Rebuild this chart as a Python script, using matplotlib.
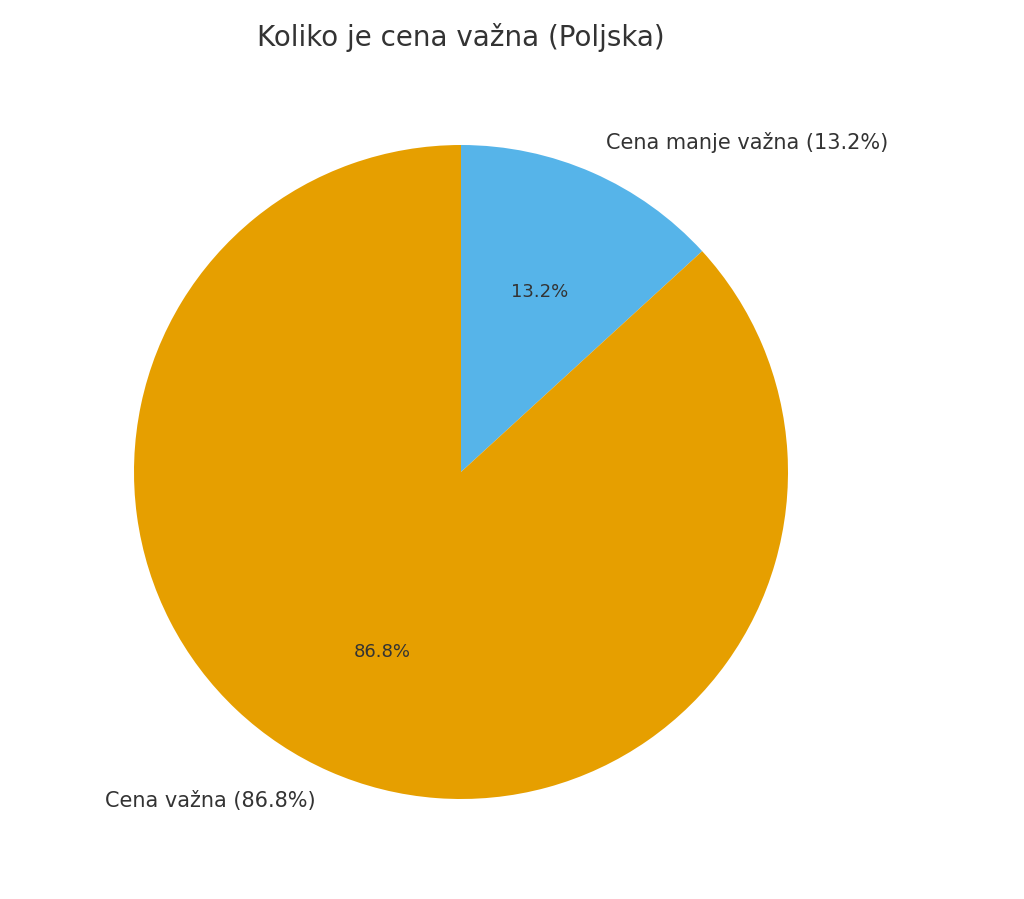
import matplotlib
matplotlib.use("Agg")
import matplotlib.pyplot as plt

labels = ["Cena manje važna (13.2%)", "Cena važna (86.8%)"]
values = [13.2, 86.8]
colors = ["#56B4E9", "#E69F00"]

W, H = 1024, 899
fig = plt.figure(figsize=(W/100, H/100), dpi=100)
cx, cy, r = 461, 472, 327
half = 1.25 * r
ax = fig.add_axes([(cx-half)/W, (H-cy-half)/H, 2*half/W, 2*half/H])
wedges, texts, autotexts = ax.pie(values, labels=labels, colors=colors, startangle=90,
                                  counterclock=False, autopct="%1.1f%%",
                                  textprops={"color": "#333333", "fontsize": 15})
for t in autotexts:
    t.set_fontsize(13)
ax.set_xlim(-1.25, 1.25); ax.set_ylim(-1.25, 1.25)
ax.set_aspect("equal")
fig.text(cx/W, 1-37/H, "Koliko je cena važna (Poljska)", ha="center", va="center",
         fontsize=20, color="#333333")
fig.savefig("out.png", dpi=100)
